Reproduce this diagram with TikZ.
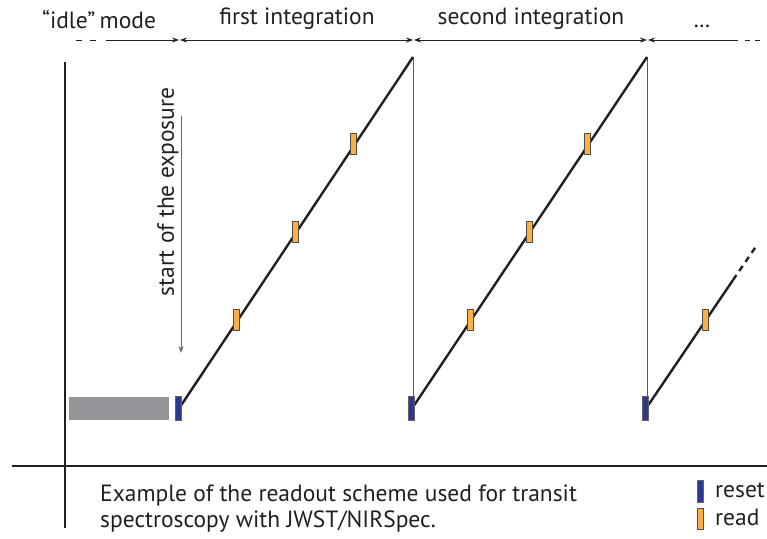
\documentclass[tikz,border=0pt]{standalone}
\usepackage{fontspec}
\setmainfont{PT Sans}
\usetikzlibrary{arrows.meta}
\definecolor{rblue}{HTML}{2B3990}
\definecolor{rorange}{HTML}{FBB040}
\definecolor{rgrey}{HTML}{939598}
\definecolor{rline}{HTML}{231F20}
\begin{document}
\begin{tikzpicture}[x=1pt,y=-1pt,
  txt/.style={font=\fontsize{23.5}{27}\selectfont, text=rline, inner sep=0pt},
  span/.style={draw=rline, line width=0.8pt, {Stealth[length=7pt,width=5pt]}-{Stealth[length=7pt,width=5pt]}},
  ramp/.style={draw=rline, line width=2.4pt},
  drop/.style={draw=rgrey!60!black, line width=0.7pt},
  resetbar/.style={draw=rline!70, fill=rblue, line width=0.5pt, minimum width=6pt, minimum height=24pt, inner sep=0pt},
  readbar/.style={draw=rline!80, fill=rorange, line width=0.5pt, minimum width=6pt, minimum height=21pt, inner sep=0pt},
  axis/.style={draw=rline, line width=2pt}]
\useasboundingbox (0,0) rectangle (767,538);
% axes
\coordinate (ytop) at (65,62);
\coordinate (ybot) at (65,528);
\coordinate (xl) at (12,466);
\coordinate (xr) at (767,466);
\draw[axis] (ytop) -- (ybot);
\draw[axis] (xl) -- (xr);
% top labels
\node[txt] (lidle) at (99,19) {“idle”\kern-2pt{} mode};
\node[txt] (lfirst) at (297,19) {first integration};
\node[txt] (lsecond) at (531,19) {second integration};
\node[txt, anchor=base] (ldots) at (702,27) {.\kern0.5pt.\kern0.5pt.};
% top spans
\coordinate (a0) at (76,40);
\coordinate (a0b) at (99,40);
\coordinate (a1) at (106,40);
\coordinate (a2) at (179,40);
\coordinate (a3) at (180,40);
\coordinate (a4) at (413,40);
\coordinate (a5) at (414,40);
\coordinate (a6) at (647,40);
\coordinate (a7) at (648,40);
\coordinate (a8) at (738,40);
\coordinate (a8b) at (745,40);
\coordinate (a9) at (762,40);
\draw[draw=rline, line width=0.8pt, dash pattern=on 6pt off 8pt] (a0) -- (a0b);
\draw[draw=rline, line width=0.8pt, -{Stealth[length=7pt,width=5pt]}] (a1) -- (a2);
\draw[span] (a3) -- (a4);
\draw[span] (a5) -- (a6);
\draw[draw=rline, line width=0.8pt, {Stealth[length=7pt,width=5pt]}-] (a7) -- (a8);
\draw[draw=rline, line width=0.8pt, dash pattern=on 5pt off 5pt] (a8b) -- (a9);
% idle grey bar
\node[fill=rgrey, minimum width=100pt, minimum height=23pt, inner sep=0pt] (idlebar) at (119,408.5) {};
% start of exposure
\coordinate (s0) at (181,116);
\coordinate (s1) at (181,353);
\draw[draw=rgrey!70!black, line width=0.8pt, -{Stealth[length=7pt,width=5pt]}] (s0) -- (s1);
\node[txt, rotate=90] (lstart) at (168,192) {start of the exposure};
% ramps
\coordinate (r1s) at (180,407);
\coordinate (r1e) at (413,57);
\coordinate (r2s) at (413,407);
\coordinate (r2e) at (647,57);
\coordinate (r3s) at (647,407);
\coordinate (r3m) at (733,280);
\coordinate (r3e) at (757,245);
\draw[drop] (r1e) -- (413,397);
\draw[drop] (r2e) -- (647,397);
\draw[ramp] (r1s) -- (r1e);
\draw[ramp] (r2s) -- (r2e);
\draw[ramp] (r3s) -- (r3m);
\draw[ramp, dash pattern=on 6pt off 5pt] (r3m) -- (r3e);
% reset bars
\node[resetbar] (rs1) at (178,408) {};
\node[resetbar] (rs2) at (411,408) {};
\node[resetbar] (rs3) at (645,408) {};
% read bars
\node[readbar] (rd1) at (236.5,320) {};
\node[readbar] (rd2) at (295,232) {};
\node[readbar] (rd3) at (353.5,144) {};
\node[readbar] (rd4) at (470,320) {};
\node[readbar] (rd5) at (529,232) {};
\node[readbar] (rd6) at (587.5,144) {};
\node[readbar] (rd7) at (705,320) {};
% caption
\node[txt, anchor=base west] (cap1) at (100,501) {Example of the readout scheme used for transit};
\node[txt, anchor=base west] (cap2) at (100,527) {spectroscopy with JWST/NIRSpec.};
% legend
\node[resetbar, minimum height=22pt] (lgreset) at (700,491) {};
\node[readbar] (lgread) at (700,519) {};
\node[txt, anchor=base west] (lreset) at (715,497) {reset};
\node[txt, anchor=base west] (lread) at (715,525) {read};
\end{tikzpicture}
\end{document}
